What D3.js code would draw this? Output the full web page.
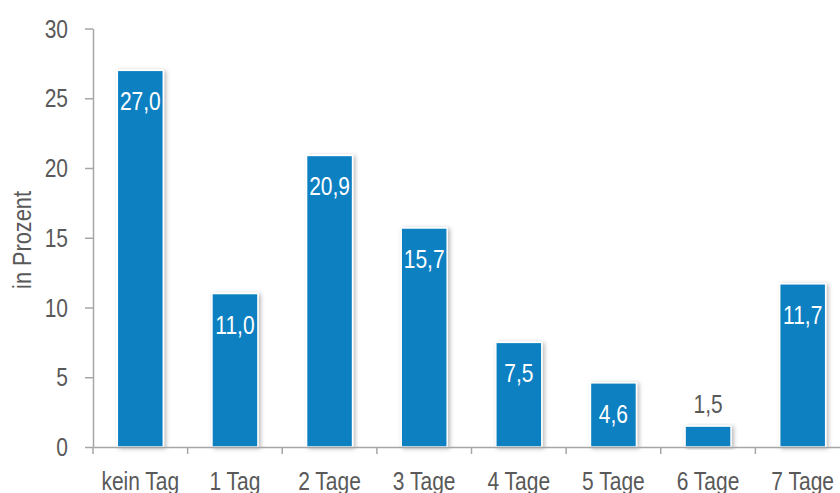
<!DOCTYPE html>
<html>
<head>
<meta charset="utf-8">
<script src="https://cdn.jsdelivr.net/npm/d3@7"></script>
<style>
  html, body { margin: 0; padding: 0; background: #fff; }
  svg { display: block; }
  text { font-family: "Liberation Sans", Arial, sans-serif; }
</style>
</head>
<body>
<svg id="chart" width="840" height="493"></svg>
<script>
// Anzahl Tage pro Woche, Anteil in Prozent
const categories = ["kein Tag", "1 Tag", "2 Tage", "3 Tage", "4 Tage", "5 Tage", "6 Tage", "7 Tage"];
const values = [27.0, 11.0, 20.9, 15.7, 7.5, 4.6, 1.5, 11.7];
const yTicks = [0, 5, 10, 15, 20, 25, 30];
const yTitle = "in Prozent";

const W = 840, H = 493;
const fontSize = 25;
const squeeze = 0.84;          // narrow glyphs
const textColor = "#595959";
const axisColor = "#a6a6a6";
const barColor = "#0a80c2";

const svg = d3.select("#chart");

const defs = svg.append("defs");
const shadow = defs.append("filter").attr("id", "barShadow")
  .attr("x", "-30%").attr("y", "-10%").attr("width", "160%").attr("height", "120%");
shadow.append("feDropShadow")
  .attr("dx", 2).attr("dy", 1).attr("stdDeviation", 2)
  .attr("flood-color", "#000").attr("flood-opacity", 0.28);

const x0 = 93, x1 = 850, yBottom = 447, yTop = 28.5;

const x = d3.scaleBand().domain(categories).range([x0, x1]).padding(0);
const y = d3.scaleLinear().domain([0, 30]).range([yBottom, yTop]);
const barW = x.bandwidth() * 0.486;

const fmt = v => d3.format(".1f")(v).replace(".", ",");

// bars
svg.append("g").selectAll("rect").data(values).join("rect")
  .attr("x", (d, i) => x(categories[i]) + (x.bandwidth() - barW) / 2)
  .attr("y", d => y(d))
  .attr("width", barW)
  .attr("height", d => y(0) - y(d))
  .attr("fill", barColor)
  .attr("stroke", "#ffffff")
  .attr("stroke-width", 1.5)
  .attr("filter", "url(#barShadow)");

// y axis
const yAxis = svg.append("g").attr("transform", `translate(${x0},0)`)
  .call(d3.axisLeft(y).tickValues(yTicks).tickSize(8).tickSizeOuter(0).tickFormat(""));
yAxis.select(".domain").attr("stroke", axisColor).attr("stroke-width", 1.5);
yAxis.selectAll(".tick line").attr("stroke", axisColor).attr("stroke-width", 1.5);

svg.append("g").selectAll("text").data(yTicks).join("text")
  .attr("transform", d => `translate(68,${y(d) + 9}) scale(${squeeze},1)`)
  .attr("text-anchor", "end")
  .attr("font-size", fontSize)
  .attr("fill", textColor)
  .text(d => d);

// x axis: line plus ticks at category boundaries
const xAxis = svg.append("g").attr("transform", `translate(0,${yBottom})`)
  .call(d3.axisBottom(x).tickSize(0).tickFormat(""));
xAxis.select(".domain").attr("stroke", axisColor).attr("stroke-width", 1.5);
const bounds = categories.map(c => x(c)).concat([x1]);
xAxis.selectAll("line.bound").data(bounds).join("line")
  .attr("class", "bound")
  .attr("x1", d => d).attr("x2", d => d)
  .attr("y1", 0).attr("y2", 7)
  .attr("stroke", axisColor).attr("stroke-width", 1.5);

svg.append("g").selectAll("text").data(categories).join("text")
  .attr("transform", d => `translate(${x(d) + x.bandwidth() / 2},490) scale(${squeeze},1)`)
  .attr("text-anchor", "middle")
  .attr("font-size", fontSize)
  .attr("fill", textColor)
  .text(d => d);

// value labels
svg.append("g").selectAll("text").data(values).join("text")
  .attr("transform", (d, i) => {
    const cx = x(categories[i]) + x.bandwidth() / 2;
    const inside = y(0) - y(d) > 45;
    const by = inside ? y(d) + 40 : y(d) - 13;
    return `translate(${cx},${by}) scale(${squeeze},1)`;
  })
  .attr("text-anchor", "middle")
  .attr("font-size", fontSize)
  .attr("fill", d => (y(0) - y(d) > 45 ? "#ffffff" : textColor))
  .text(d => fmt(d));

// y axis title
svg.append("text")
  .attr("transform", `translate(31,240) rotate(-90) scale(0.87,1)`)
  .attr("text-anchor", "middle")
  .attr("font-size", fontSize)
  .attr("fill", textColor)
  .text(yTitle);
</script>
</body>
</html>
